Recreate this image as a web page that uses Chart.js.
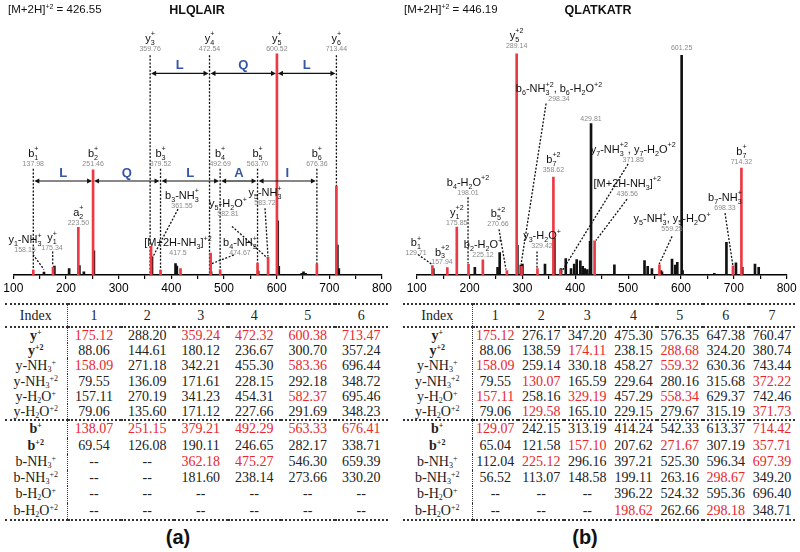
<!DOCTYPE html>
<html>
<head>
<meta charset="utf-8">
<script src="https://cdn.jsdelivr.net/npm/chart.js@4.4.0/dist/chart.umd.min.js"></script>
<style>
  body { margin: 0; width: 800px; height: 552px; background: #fff; position: relative; overflow: hidden;
         font-family: "Liberation Sans", Arial, sans-serif; color: #111; }
  canvas { position: absolute; top: 0; }
  .hdr { position: absolute; top: 3px; font-size: 11.5px; line-height: 13px; white-space: nowrap; }
  .hdr sup { font-size: 7px; vertical-align: 4px; line-height: 0; }
  .ttl { position: absolute; top: 3px; font-size: 12.5px; line-height: 14px; font-weight: bold; transform: translateX(-50%); }
  .cap { position: absolute; top: 525px; font-size: 20px; line-height: 24px; font-weight: bold; transform: translateX(-50%); }
  table { position: absolute; top: 303px; border-collapse: collapse; table-layout: fixed;
          font-family: "Liberation Serif", "Times New Roman", serif; font-size: 14px; color: #222; }
  td { padding: 0; text-align: center; white-space: nowrap; }
  td.lab { border-right: 1.5px dotted #333; }
  tr.top td { border-top: 2px dotted #333; }
  tr.mid td { border-top: 2px dotted #333; }
  tr.bot td { border-bottom: 2px dotted #333; }
  td.red { color: #e8262d; }
  td sub, td sup { font-size: 8px; line-height: 0; }
  td sub { vertical-align: -2px; }
  td sup { vertical-align: 5px; }
</style>
</head>
<body>
<canvas id="specA" width="400" height="300" style="left:0"></canvas>
<canvas id="specB" width="400" height="300" style="left:400px"></canvas>

<div class="hdr" style="left:8px">[M+2H]<sup>+2</sup> = 426.55</div>
<div class="ttl" style="left:197px">HLQLAIR</div>
<div class="hdr" style="left:404px">[M+2H]<sup>+2</sup> = 446.19</div>
<div class="ttl" style="left:598px">QLATKATR</div>

<div id="tables"></div>
<div class="cap" style="left:178px">(a)</div>
<div class="cap" style="left:585px">(b)</div>

<script>
// ---- spectrum (a): HLQLAIR, relative intensity (base peak = 100)
var aRedMz   = [137.98, 175.34, 223.50, 251.46, 361.55, 379.52, 417.5, 474.67, 492.69, 563.70, 583.72, 600.52, 676.36, 713.44];
var aRedInt  = [2.3, 3.6, 21.6, 47.5, 13, 2.3, 2.9, 10, 2.4, 5.4, 8, 100, 5, 40.2];
var aBlackMz  = [158.2, 178, 206, 225.5, 234, 253, 363.3, 408, 410.5, 475.5, 565, 602, 604, 647.6, 651, 655, 715.3, 718];
var aBlackInt = [1.4, 4.1, 3.0, 4.3, 1.5, 11, 8.2, 5.2, 4.1, 1.5, 1.8, 24.5, 4, 0.8, 1.5, 0.8, 13.6, 3];

// labels: [m/z, intensity, ion name, m/z text]
var aLabels = [
  [359.76, 106.6, 'y_3^+', '359.76'], [472.54, 106.6, 'y_4^+', '472.54'],
  [600.52, 106.6, 'y_5^+', '600.52'], [713.44, 106.6, 'y_6^+', '713.44'],
  [137.98, 54.8, 'b_1^+', '137.98'], [251.46, 54.8, 'b_2^+', '251.46'],
  [379.52, 54.8, 'b_3^+', '379.52'], [492.69, 54.8, 'b_4^+', '492.69'],
  [563.70, 54.8, 'b_5^+', '563.70'], [676.36, 54.8, 'b_6^+', '676.36'],
  [223.50, 28, 'a_2^+', '223.50'],
  [122.2, 15.7, 'y_1-NH_3^+', '158.15'], [173.5, 16.6, 'y_1^+', '175.34'],
  [420.3, 35.7, 'b_3-NH_3^+', '361.55'], [412.7, 14.3, '[M+2H-NH_3]^+2', '417.5'],
  [507.6, 32, 'y_5-H_2O^+', '582.81'], [530.4, 14.3, 'b_4-NH_3^+', '474.67'],
  [577.9, 37, 'y_5-NH_3^+', '583.72']
];
// dotted leaders: [m/z 1, int 1, m/z 2, int 2]
var aLeaders = [
  [359.76, 99.3, 359.76, 0], [472.54, 99.3, 472.54, 0], [713.44, 99.3, 713.44, 0],
  [137.98, 48, 137.98, 0], [379.52, 48, 379.52, 0], [492.69, 48, 492.69, 0],
  [563.70, 48, 563.70, 0], [676.36, 48, 676.36, 0],
  [137.4, 9.3, 158.3, 2.5], [174.8, 10.7, 174.8, 4.3], [412.7, 29.8, 363.3, 7.5],
  [515.2, 22, 583.5, 7.5], [477, 5.2, 520.7, 9.3], [577.9, 30.2, 583.5, 8.4]
];
// residue gaps: [m/z from, m/z to, intensity, residue]
var aGaps = [
  [359.76, 472.54, 91.1, 'L'], [472.54, 600.52, 91.1, 'Q'], [600.52, 713.44, 91.1, 'L'],
  [137.98, 251.46, 42.5, 'L'], [251.46, 379.52, 42.5, 'Q'], [379.52, 492.69, 42.5, 'L'],
  [492.69, 563.70, 42.5, 'A'], [563.70, 676.36, 42.5, 'I']
];

// ---- spectrum (b): QLATKATR
var bRedMz   = [129.71, 157.94, 175.85, 198.01, 225.12, 270.66, 289.14, 298.34, 328.42, 358.62, 371.85, 436.56, 559.25, 698.33, 714.32];
var bRedInt  = [4.3, 3.4, 21.7, 4.9, 6.9, 2, 100, 4, 3, 44.3, 2.5, 15.5, 4.6, 4.2, 48.3];
var bBlackMz  = [131.5, 210, 253, 257, 290.5, 297, 300, 342.7, 360.5, 373, 382, 392, 398, 402.7, 409.6, 414, 418, 422.8, 428, 429.81,
                 474, 531, 537, 545, 562, 564, 583, 589, 593, 601.25, 603, 663, 686, 704, 716, 740, 747];
var bBlackInt = [3, 3.5, 3.5, 10.2, 13.4, 4.5, 5, 5, 16.7, 3, 7.5, 3, 5, 7, 6.5, 4, 3, 2.5, 15.2, 68.4,
                 4.6, 6.6, 4, 3, 2, 1.5, 7.2, 4.5, 5.8, 99.3, 2, 0.8, 14.8, 5.5, 3.5, 5, 3.5];

var bLabels = [
  [289.14, 108, 'y_5^+2', '289.14'], [601.25, 107, '', '601.25'], [429.81, 75.2, '', '429.81'],
  [369.2, 83.9, 'b_6-NH_3^+2, b_6-H_2O^+2', '298.34'],
  [509.6, 56.6, 'y_7-NH_3^+2, y_7-H_2O^+2', '371.85'],
  [498.3, 41.1, '[M+2H-NH_3]^+2', '436.56'],
  [583.1, 25.2, 'y_5-NH_3^+, y_5-H_2O^+', '559.25'],
  [683.3, 34.8, 'b_7-NH_3^+', '698.33'], [714.32, 55.7, 'b_7^+', '714.32'],
  [358.62, 52, 'b_7^+2', '358.62'], [197.1, 41.6, 'b_4-H_2O^+2', '198.01'],
  [175.85, 28, 'y_1^+2', '175.85'], [253.8, 27.5, 'b_5^+2', '270.66'],
  [225.4, 13.4, 'b_2-H_2O^+', '225.12'], [98.7, 14.3, 'b_1^+', '129.71'],
  [147.9, 10.2, 'b_3^+2', '157.94'], [337.1, 17.5, 'y_3-H_2O^+', '329.42']
];
var bLeaders = [
  [344.8, 77.5, 297.4, 4.8], [500, 50.2, 373, 1.1], [497.9, 34.3, 439.2, 15.7],
  [583.1, 17.5, 558.5, 4.8], [683.3, 28, 698.4, 3.9], [197.1, 35.2, 197.1, 5.2],
  [255.7, 20.7, 268.9, 2.5], [102.5, 9.3, 129, 4.8], [327.6, 10.7, 327.6, 3]
];
var bGaps = [];

// ---- fragment tables
var rowNames = ['y^+', 'y^+2', 'y-NH_3^+', 'y-NH_3^+2', 'y-H_2O^+', 'y-H_2O^+2',
                'b^+', 'b^+2', 'b-NH_3^+', 'b-NH_3^+2', 'b-H_2O^+', 'b-H_2O^+2'];
var boldRows = [0, 1, 6, 7];
var tableA = [
  ['175.12', '288.20', '359.24', '472.32', '600.38', '713.47'],
  ['88.06', '144.61', '180.12', '236.67', '300.70', '357.24'],
  ['158.09', '271.18', '342.21', '455.30', '583.36', '696.44'],
  ['79.55', '136.09', '171.61', '228.15', '292.18', '348.72'],
  ['157.11', '270.19', '341.23', '454.31', '582.37', '695.46'],
  ['79.06', '135.60', '171.12', '227.66', '291.69', '348.23'],
  ['138.07', '251.15', '379.21', '492.29', '563.33', '676.41'],
  ['69.54', '126.08', '190.11', '246.65', '282.17', '338.71'],
  ['--', '--', '362.18', '475.27', '546.30', '659.39'],
  ['--', '--', '181.60', '238.14', '273.66', '330.20'],
  ['--', '--', '--', '--', '--', '--'],
  ['--', '--', '--', '--', '--', '--']
];
// matched (red) cells: [row, column]
var redA = [[0,0],[0,2],[0,3],[0,4],[0,5],[2,0],[2,4],[4,4],
            [6,0],[6,1],[6,2],[6,3],[6,4],[6,5],[8,2],[8,3]];
var tableB = [
  ['175.12', '276.17', '347.20', '475.30', '576.35', '647.38', '760.47'],
  ['88.06', '138.59', '174.11', '238.15', '288.68', '324.20', '380.74'],
  ['158.09', '259.14', '330.18', '458.27', '559.32', '630.36', '743.44'],
  ['79.55', '130.07', '165.59', '229.64', '280.16', '315.68', '372.22'],
  ['157.11', '258.16', '329.19', '457.29', '558.34', '629.37', '742.46'],
  ['79.06', '129.58', '165.10', '229.15', '279.67', '315.19', '371.73'],
  ['129.07', '242.15', '313.19', '414.24', '542.33', '613.37', '714.42'],
  ['65.04', '121.58', '157.10', '207.62', '271.67', '307.19', '357.71'],
  ['112.04', '225.12', '296.16', '397.21', '525.30', '596.34', '697.39'],
  ['56.52', '113.07', '148.58', '199.11', '263.16', '298.67', '349.20'],
  ['--', '--', '--', '396.22', '524.32', '595.36', '696.40'],
  ['--', '--', '--', '198.62', '262.66', '298.18', '348.71']
];
var redB = [[0,0],[1,2],[1,4],[2,0],[2,4],[3,1],[3,6],[4,0],[4,2],[4,4],[5,1],[5,6],
            [6,0],[6,6],[7,2],[7,4],[7,6],[8,1],[8,6],[9,5],[11,3],[11,5]];

// ---- rich text: "_3" subscript, "^+2" superscript
function parseRich(s) {
  var out = [], i = 0, buf = '';
  while (i < s.length) {
    var c = s[i];
    if (c === '_' || c === '^') {
      if (buf) { out.push({ t: buf, m: 0 }); buf = ''; }
      var j = i + 1, t = '';
      if (c === '^' && (s[j] === '+' || s[j] === '-')) { t += s[j]; j++; }
      while (j < s.length && /[0-9]/.test(s[j])) { t += s[j]; j++; }
      out.push({ t: t, m: c === '_' ? 1 : 2 });
      i = j;
    } else { buf += c; i++; }
  }
  if (buf) out.push({ t: buf, m: 0 });
  return out;
}

function richHtml(s) {
  return parseRich(s).map(function (tk) {
    return tk.m === 1 ? '<sub>' + tk.t + '</sub>' : tk.m === 2 ? '<sup>' + tk.t + '</sup>' : tk.t;
  }).join('');
}

var FONT = '"Liberation Sans", Arial, sans-serif';

function drawRich(ctx, s, cx, cy, size) {
  var toks = parseRich(s), small = size * 0.65, x = 0, items = [];
  for (var k = 0; k < toks.length; k++) {
    var tk = toks[k], f = tk.m ? small : size;
    ctx.font = f + 'px ' + FONT;
    var w = ctx.measureText(tk.t).width;
    if (tk.m === 2 && k > 0 && toks[k - 1].m === 1) {
      var prev = items[items.length - 1];
      items.push({ t: tk.t, m: 2, x: prev.x, f: f });
      x = Math.max(x, prev.x + w);
    } else {
      items.push({ t: tk.t, m: tk.m, x: x, f: f });
      x += w;
    }
  }
  var x0 = cx - x / 2;
  ctx.textAlign = 'left';
  ctx.textBaseline = 'middle';
  items.forEach(function (it) {
    ctx.font = it.f + 'px ' + FONT;
    var dy = it.m === 1 ? size * 0.35 : it.m === 2 ? -size * 0.42 : 0;
    ctx.fillText(it.t, x0 + it.x, cy + dy);
  });
}

function arrowHead(ctx, x, y, dir) {
  ctx.beginPath();
  ctx.moveTo(x, y);
  ctx.lineTo(x - dir * 5, y - 2.6);
  ctx.lineTo(x - dir * 5, y + 2.6);
  ctx.closePath();
  ctx.fill();
}

// ---- annotation plugin (positions go through the chart's own scales)
var annotPlugin = {
  id: 'annot',
  beforeDatasetsDraw: function (chart, args, opts) {
    var xs = chart.scales.x, ys = chart.scales.y, ctx = chart.ctx;
    ctx.save();
    ctx.strokeStyle = '#111';
    ctx.lineWidth = 1.3;
    ctx.setLineDash([2, 1.6]);
    (opts.leaders || []).forEach(function (l) {
      ctx.beginPath();
      ctx.moveTo(xs.getPixelForValue(l[0]), ys.getPixelForValue(l[1]));
      ctx.lineTo(xs.getPixelForValue(l[2]), ys.getPixelForValue(l[3]));
      ctx.stroke();
    });
    ctx.restore();
  },
  afterDatasetsDraw: function (chart, args, opts) {
    var xs = chart.scales.x, ys = chart.scales.y, ctx = chart.ctx;
    ctx.save();
    (opts.gaps || []).forEach(function (g) {
      var x1 = xs.getPixelForValue(g[0]) + 1, x2 = xs.getPixelForValue(g[1]) - 1;
      var y = ys.getPixelForValue(g[2]);
      ctx.strokeStyle = '#111';
      ctx.fillStyle = '#111';
      ctx.lineWidth = 1.2;
      ctx.beginPath(); ctx.moveTo(x1 + 3, y); ctx.lineTo(x2 - 3, y); ctx.stroke();
      arrowHead(ctx, x1, y, -1);
      arrowHead(ctx, x2, y, 1);
      ctx.fillStyle = '#3555a8';
      ctx.font = 'bold 13px ' + FONT;
      ctx.textAlign = 'center';
      ctx.textBaseline = 'middle';
      ctx.fillText(g[3], (x1 + x2) / 2, y - 8);
    });
    (opts.labels || []).forEach(function (lb) {
      var cx = xs.getPixelForValue(lb[0]), cy = ys.getPixelForValue(lb[1]);
      ctx.fillStyle = '#111';
      if (lb[2]) drawRich(ctx, lb[2], cx, cy, 11);
      ctx.fillStyle = '#8a8a8a';
      ctx.font = '7px ' + FONT;
      ctx.textAlign = 'center';
      ctx.textBaseline = 'middle';
      ctx.fillText(lb[3], cx, cy + 10);
    });
    ctx.restore();
  }
};

function makeSpectrum(id, redMz, redInt, blackMz, blackInt, ann, pad) {
  return new Chart(document.getElementById(id), {
    type: 'bar',
    data: {
      datasets: [
        { data: blackMz.map(function (m, i) { return { x: m, y: blackInt[i] }; }),
          backgroundColor: '#111', barThickness: 2, grouped: false, order: 2 },
        { data: redMz.map(function (m, i) { return { x: m, y: redInt[i] }; }),
          backgroundColor: '#ec3a44', barThickness: 2, grouped: false, order: 1 }
      ]
    },
    options: {
      responsive: false,
      animation: false,
      events: [],
      layout: { padding: pad },
      plugins: { legend: { display: false }, tooltip: { enabled: false }, annot: ann },
      scales: {
        x: {
          type: 'linear', min: 100, max: 800, offset: false,
          grid: { display: true, drawOnChartArea: false, drawTicks: true, tickLength: 4,
                  color: '#000', lineWidth: 1.2, offset: false },
          border: { display: true, color: '#000', width: 1.5 },
          ticks: { stepSize: 50, autoSkip: false, maxRotation: 0, color: '#000', padding: 2,
                   font: { size: 12, family: FONT },
                   callback: function (v) { return v % 100 === 0 ? v : ''; } }
        },
        y: { display: false, min: 0, max: 115 }
      }
    },
    plugins: [annotPlugin]
  });
}

makeSpectrum('specA', aRedMz, aRedInt, aBlackMz, aBlackInt,
  { labels: aLabels, leaders: aLeaders, gaps: aGaps },
  { left: 13.3, right: 18, top: 20.5, bottom: 2.5 });
makeSpectrum('specB', bRedMz, bRedInt, bBlackMz, bBlackInt,
  { labels: bLabels, leaders: bLeaders, gaps: bGaps },
  { left: 16.7, right: 13.3, top: 20.5, bottom: 2.5 });

// ---- tables
function buildTable(rows, reds, left, width, labW) {
  var ncol = rows[0].length, colW = (width - labW) / ncol;
  var isRed = {};
  reds.forEach(function (r) { isRed[r[0] + '_' + r[1]] = true; });
  var h = '<table style="left:' + left + 'px;width:' + width + 'px">';
  h += '<colgroup><col style="width:' + labW + 'px">';
  for (var c = 0; c < ncol; c++) h += '<col style="width:' + colW + 'px">';
  h += '</colgroup>';
  h += '<tr class="top" style="height:23px"><td class="lab" style="border-bottom:2px dotted #333">Index</td>';
  for (c = 0; c < ncol; c++) h += '<td style="border-bottom:2px dotted #333">' + (c + 1) + '</td>';
  h += '</tr>';
  rows.forEach(function (row, r) {
    var cls = r === 6 ? 'mid' : r === rows.length - 1 ? 'bot' : '';
    var ht = r < 6 ? 15.2 : 16.3;
    var bold = boldRows.indexOf(r) >= 0 ? 'font-weight:bold;' : '';
    h += '<tr class="' + cls + '" style="height:' + ht + 'px;line-height:' + ht + 'px">';
    h += '<td class="lab" style="' + bold + '">' + richHtml(rowNames[r]) + '</td>';
    row.forEach(function (v, c) {
      h += '<td class="' + (isRed[r + '_' + c] ? 'red' : '') + '">' + v + '</td>';
    });
    h += '</tr>';
  });
  return h + '</table>';
}

document.getElementById('tables').innerHTML =
  buildTable(tableA, redA, 5, 383, 62) + buildTable(tableB, redB, 403, 392, 69);
</script>
</body>
</html>
